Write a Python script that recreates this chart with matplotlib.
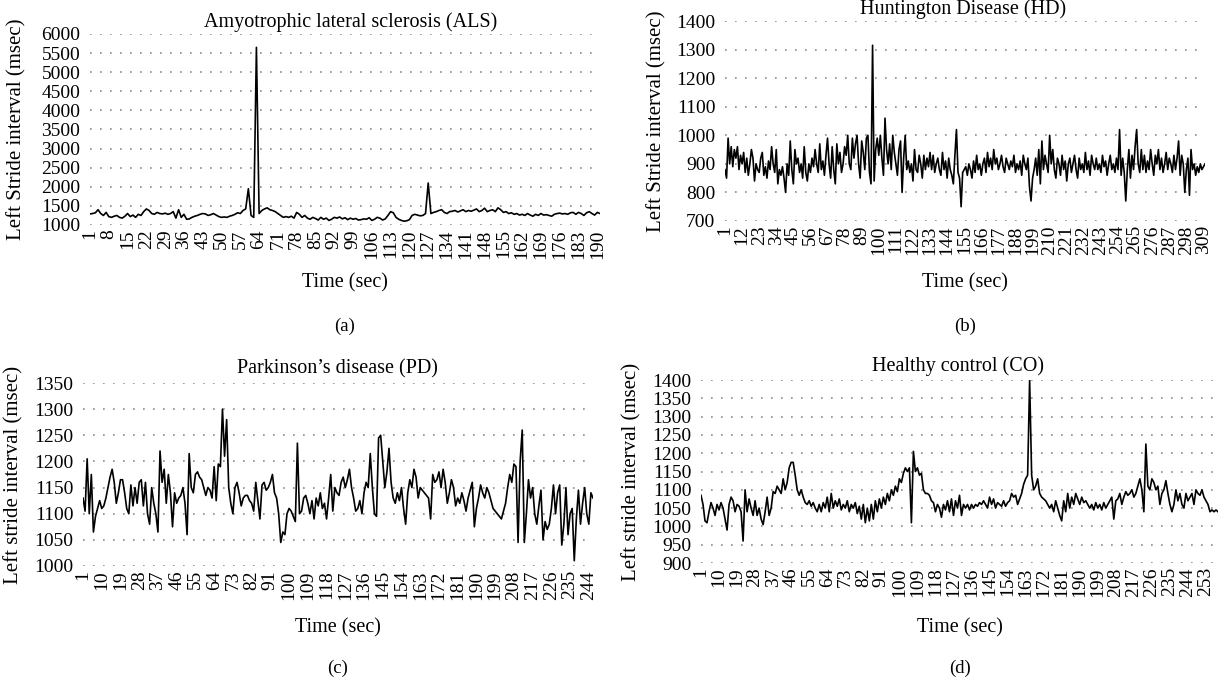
import matplotlib.pyplot as plt

plt.rcParams['font.family'] = ['Liberation Serif', 'DejaVu Serif']

# left stride interval (msec), one value per second
als = [1290, 1300, 1320, 1400, 1300, 1250, 1330, 1220, 1200, 1230,
       1250, 1200, 1180, 1230, 1300, 1220, 1260, 1200, 1280, 1250,
       1350, 1420, 1380, 1300, 1280, 1330, 1300, 1290, 1310, 1280,
       1300, 1350, 1180, 1400, 1200, 1280, 1150, 1160, 1200, 1230,
       1250, 1280, 1300, 1290, 1250, 1270, 1300, 1260, 1220, 1200,
       1210, 1200, 1230, 1250, 1280, 1320, 1300, 1380, 1420, 1950,
       1250, 1200, 5650, 1300, 1380, 1420, 1450, 1400, 1380, 1350,
       1300, 1250, 1200, 1220, 1200, 1230, 1180, 1330, 1280, 1200,
       1250, 1180, 1150, 1200, 1170, 1130, 1200, 1150, 1180, 1120,
       1150, 1200, 1180, 1210, 1160, 1190, 1140, 1180, 1150, 1170,
       1130, 1140, 1160, 1150, 1190, 1120, 1150, 1200, 1180, 1130,
       1160, 1250, 1350, 1320, 1200, 1150, 1120, 1100, 1110, 1140,
       1250, 1280, 1260, 1240, 1250, 1300, 2100, 1300, 1330, 1350,
       1380, 1400, 1330, 1300, 1350, 1360, 1380, 1340, 1370, 1400,
       1350, 1380, 1360, 1390, 1420, 1350, 1380, 1440, 1350, 1380,
       1400, 1350, 1450, 1400, 1330, 1350, 1300, 1320, 1280, 1300,
       1260, 1280, 1250, 1300, 1260, 1230, 1280, 1250, 1300, 1260,
       1270, 1250, 1230, 1280, 1300, 1310, 1290, 1300, 1280, 1320,
       1330, 1280, 1330, 1300, 1250, 1320, 1350, 1300, 1260, 1330, 1300]

hd = [880, 850, 990, 900, 960, 890, 950, 920, 960, 880,
      930, 900, 940, 870, 920, 860, 900, 950, 920, 840,
      900, 880, 870, 920, 940, 860, 890, 850, 910, 880,
      960, 900, 870, 950, 830, 880, 860, 890, 850, 800,
      900, 860, 980, 880, 830, 950, 900, 920, 870, 900,
      850, 960, 870, 840, 900, 870, 920, 890, 950, 900,
      870, 970, 880, 910, 860, 930, 990, 900, 850, 960,
      880, 830, 970, 900, 940, 870, 900, 960, 930, 1000,
      900, 880, 990, 920, 970, 1000, 900, 850, 980, 940,
      880, 990, 1000, 870, 830, 1315, 840, 950, 990, 930,
      1000, 920, 860, 1060, 950, 900, 970, 880, 1000, 940,
      900, 860, 950, 980, 800, 920, 1000, 880, 910, 870,
      900, 840, 950, 880, 870, 930, 900, 850, 930, 880,
      920, 890, 940, 880, 930, 870, 900, 920, 880, 860,
      940, 880, 910, 850, 920, 880, 860, 830, 930, 1020,
      870, 850, 750, 870, 880, 890, 860, 900, 880, 850,
      910, 870, 930, 880, 900, 860, 900, 920, 870, 940,
      890, 920, 880, 950, 900, 920, 880, 900, 930, 890,
      870, 920, 900, 880, 910, 890, 930, 870, 900, 880,
      910, 860, 930, 900, 880, 920, 820, 770, 850, 880,
      920, 860, 950, 830, 980, 880, 930, 900, 870, 1000,
      900, 950, 880, 850, 920, 900, 860, 930, 880, 910,
      840, 900, 920, 870, 900, 930, 880, 850, 920, 880,
      900, 870, 940, 880, 910, 860, 930, 900, 880, 920,
      880, 900, 870, 930, 890, 910, 860, 900, 930, 880,
      900, 870, 920, 880, 1020, 860, 920, 870, 770, 880,
      950, 850, 930, 880, 960, 1020, 900, 870, 950, 880,
      930, 870, 910, 880, 950, 900, 860, 930, 900, 950,
      880, 920, 870, 900, 940, 880, 920, 900, 870, 930,
      880, 920, 980, 860, 930, 900, 800, 880, 920, 790,
      950, 880, 900, 860, 890, 870, 900, 880, 890, 900]

pd_ = [1130, 1105, 1205, 1100, 1175, 1065, 1095, 1110, 1125, 1110,
       1115, 1130, 1150, 1170, 1185, 1160, 1120, 1140, 1165, 1165,
       1140, 1110, 1100, 1155, 1115, 1150, 1120, 1160, 1165, 1115,
       1160, 1100, 1080, 1150, 1120, 1100, 1065, 1220, 1160, 1185,
       1120, 1175, 1140, 1075, 1140, 1120, 1130, 1135, 1150, 1120,
       1060, 1215, 1150, 1140, 1175, 1180, 1170, 1165, 1150, 1135,
       1150, 1145, 1130, 1190, 1125, 1195, 1190, 1300, 1210, 1280,
       1150, 1120, 1100, 1150, 1160, 1140, 1115, 1130, 1135, 1135,
       1125, 1120, 1105, 1160, 1125, 1090, 1155, 1160, 1145, 1150,
       1160, 1175, 1140, 1130, 1100, 1045, 1065, 1060, 1100, 1110,
       1105, 1095, 1085, 1235, 1100, 1105, 1130, 1135, 1120, 1100,
       1125, 1090, 1130, 1115, 1140, 1110, 1120, 1090, 1130, 1175,
       1105, 1150, 1140, 1135, 1160, 1170, 1150, 1165, 1185, 1150,
       1130, 1105, 1110, 1125, 1100, 1140, 1160, 1150, 1215, 1150,
       1100, 1095, 1245, 1250, 1200, 1150, 1180, 1225, 1160, 1130,
       1120, 1140, 1125, 1150, 1110, 1080, 1140, 1165, 1150, 1185,
       1170, 1130, 1150, 1145, 1140, 1135, 1130, 1090, 1175, 1160,
       1165, 1180, 1150, 1185, 1160, 1120, 1140, 1165, 1150, 1115,
       1130, 1120, 1140, 1125, 1105, 1130, 1145, 1160, 1075, 1110,
       1130, 1155, 1140, 1130, 1150, 1140, 1125, 1110, 1105, 1100,
       1095, 1090, 1105, 1120, 1150, 1175, 1160, 1195, 1190, 1045,
       1200, 1260, 1045, 1100, 1165, 1130, 1150, 1100, 1080, 1115,
       1145, 1050, 1085, 1070, 1080, 1110, 1155, 1100, 1140, 1155,
       1040, 1080, 1150, 1060, 1100, 1110, 1010, 1090, 1145, 1080,
       1120, 1150, 1100, 1080, 1140, 1130]

co = [1085, 1060, 1015, 1010, 1040, 1065, 1050, 1030, 1060, 1045,
      1065, 1050, 1020, 990, 1060, 1080, 1070, 1040, 1060, 1055,
      1040, 960, 1100, 1040, 1075, 1050, 1030, 1070, 1030, 1050,
      1020, 1005, 1040, 1080, 1030, 1050, 1095, 1090, 1110, 1100,
      1090, 1130, 1100, 1120, 1160, 1175, 1175, 1140, 1100, 1085,
      1100, 1080, 1065, 1060, 1070, 1055, 1065, 1050, 1040, 1060,
      1040, 1065, 1050, 1080, 1040, 1090, 1050, 1070, 1055, 1075,
      1045, 1060, 1050, 1070, 1040, 1060, 1050, 1065, 1035, 1055,
      1020, 1060, 1010, 1050, 1015, 1060, 1020, 1070, 1040, 1075,
      1050, 1080, 1060, 1090, 1070, 1100, 1085, 1110, 1095, 1130,
      1120, 1145, 1160, 1150, 1160, 1010, 1205, 1150, 1160, 1140,
      1145, 1100, 1090, 1090, 1085, 1070, 1065, 1040, 1060, 1050,
      1025, 1060, 1045, 1070, 1040, 1075, 1030, 1070, 1050, 1085,
      1030, 1060, 1050, 1060, 1045, 1060, 1050, 1060, 1055, 1065,
      1060, 1070, 1060, 1050, 1080, 1060, 1075, 1050, 1065, 1060,
      1055, 1070, 1055, 1065, 1070, 1090, 1080, 1085, 1060, 1075,
      1090, 1115, 1130, 1140, 1400, 1140, 1100, 1110, 1130, 1090,
      1080, 1075, 1070, 1060, 1050, 1060, 1040, 1070, 1050, 1030,
      1015, 1070, 1040, 1090, 1050, 1080, 1060, 1090, 1075, 1060,
      1080, 1065, 1070, 1060, 1050, 1060, 1045, 1065, 1050, 1060,
      1045, 1065, 1050, 1060, 1070, 1080, 1020, 1070, 1075, 1090,
      1060, 1080, 1095, 1085, 1090, 1100, 1080, 1090, 1110, 1130,
      1100, 1040, 1225, 1110, 1100, 1130, 1120, 1100, 1110, 1060,
      1090, 1100, 1125, 1090, 1060, 1040, 1060, 1100, 1070, 1090,
      1060, 1050, 1090, 1070, 1080, 1090, 1060, 1100, 1090, 1085,
      1100, 1080, 1070, 1060, 1040, 1045, 1040, 1045, 1040]

W, H = 1225, 682
fig = plt.figure(figsize=(W / 100, H / 100), dpi=100)
TICK_FS = 14
LABEL_FS = 15
TITLE_FS = 14.5


def panel(series, box, ylim, ystep, xstep, title, title_pos, ylabel, ylabel_x, xlabel_y, tag, tag_y):
    left, right, top, bottom = box
    ax = fig.add_axes([left / W, 1 - bottom / H, (right - left) / W, (bottom - top) / H])
    n = len(series)
    ax.plot(range(1, n + 1), series, color='black', lw=1.2)
    ax.set_xlim(1, n)
    ax.set_ylim(*ylim)
    ax.set_yticks(range(ylim[0], ylim[1] + 1, ystep))
    ax.set_xticks(range(1, n + 1, xstep))
    ax.tick_params(length=0, labelsize=TICK_FS)
    ax.tick_params(axis='y', pad=7)
    ax.tick_params(axis='x', rotation=90, pad=3)
    ax.grid(axis='y', color='#8a8a8a', lw=1.2, ls=(0, (1, 5)))
    ax.set_axisbelow(True)
    for s in ax.spines.values():
        s.set_visible(False)
    cx = (left + right) / 2
    fig.text(title_pos[0] / W, 1 - title_pos[1] / H, title, ha='center', va='baseline', fontsize=TITLE_FS)
    fig.text(ylabel_x / W, 1 - (top + bottom) / 2 / H, ylabel, rotation=90,
             ha='center', va='center', fontsize=LABEL_FS)
    fig.text(cx / W, 1 - xlabel_y / H, 'Time (sec)', ha='center', va='center', fontsize=TITLE_FS)
    fig.text(cx / W, 1 - tag_y / H, tag, ha='center', va='center', fontsize=13.5)
    return ax


panel(als, (90, 600, 34, 225), (1000, 6000), 500, 7,
      'Amyotrophic lateral sclerosis (ALS)', (351, 27),
      'Left Stride interval (msec)', 17, 283, '(a)', 326)
panel(hd, (725, 1205, 21, 221), (700, 1400), 100, 11,
      'Huntington Disease (HD)', (963, 14),
      'Left Stride interval (msec)', 657, 283, '(b)', 326)
panel(pd_, (83, 593, 383, 566), (1000, 1350), 50, 9,
      'Parkinson\u2019s disease (PD)', (337, 373),
      'Left stride interval (msec)', 14, 628, '(c)', 668)
panel(co, (701, 1218, 380, 563), (900, 1400), 50, 9,
      'Healthy control (CO)', (958, 371),
      'Left stride interval (msec)', 632, 628, '(d)', 668)

fig.savefig('out.png', dpi=100)
